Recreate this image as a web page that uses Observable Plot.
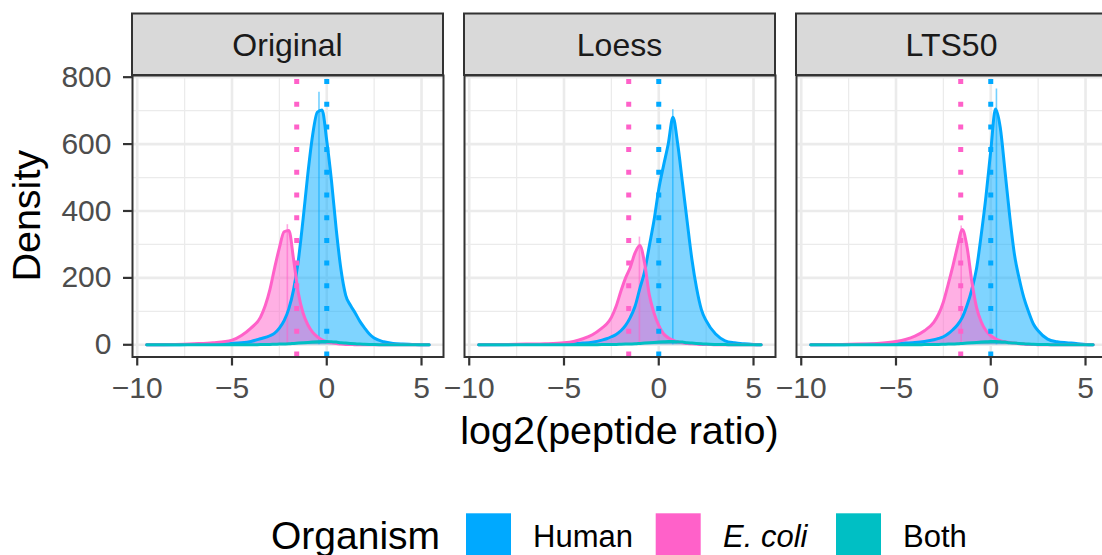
<!DOCTYPE html>
<html>
<head>
<meta charset="utf-8">
<script src="https://cdn.jsdelivr.net/npm/d3@7"></script>
<script src="https://cdn.jsdelivr.net/npm/@observablehq/plot@0.6"></script>
<style>
  html, body { margin: 0; padding: 0; background: #ffffff; overflow: hidden; }
  #chart svg { display: block; }
</style>
</head>
<body>
<div id="chart"></div>
<script>
// Normalisation methods (one facet each) and organisms (one colour each)
const methods = ["Original", "Loess", "LTS50"];
const organisms = ["Human", "E. coli", "Both"];
const organismColors = ["#00A9FF", "#FF61C9", "#00BFC4"];

// Positions along log2(peptide ratio) where the density curves are sampled
const ratioGrid = [-9.5, -8, -7, -6, -5, -4.5, -4, -3.5, -3, -2.75, -2.5, -2.25, -2, -1.75, -1.5, -1.25, -1, -0.75, -0.5, -0.25,
  0, 0.25, 0.5, 0.75, 1, 1.25, 1.5, 1.75, 2, 2.25, 2.5, 3, 3.5, 4, 4.5, 5, 5.4];

// Density values at each grid position
const originalHuman = [0, 0, 1, 2, 4, 6, 10, 18, 27, 35, 50, 72, 108, 165, 252, 375, 510, 625, 695, 702,
  610, 490, 345, 225, 148, 118, 95, 70, 50, 32, 20, 9, 4, 2, 1, 0, 0];
const originalEcoli = [0, 1, 3, 6, 14, 28, 50, 82, 165, 230, 290, 338, 342, 255, 155, 95, 60, 38, 24, 15,
  9, 6, 4, 2, 1, 1, 0, 0, 0, 0, 0, 0, 0, 0, 0, 0, 0];
const originalBoth = [0, 0, 0, 0, 0, 0, 0, 0.5, 1, 1.5, 2, 2.5, 3, 4, 5, 6, 7, 8, 9, 10,
  10, 9, 8, 6, 5, 4, 3, 2, 1.5, 1, 0.5, 0, 0, 0, 0, 0, 0];

const loessHuman = [0, 0, 1, 1, 2, 3, 5, 8, 14, 18, 24, 31, 42, 58, 82, 115, 168, 218, 295, 372,
  465, 535, 600, 680, 600, 485, 368, 255, 168, 105, 72, 32, 12, 6, 3, 1, 0];
const loessEcoli = [0, 1, 2, 3, 6, 10, 18, 30, 50, 62, 82, 115, 160, 200, 232, 275, 297, 245, 150, 95,
  58, 33, 21, 14, 9, 6, 4, 3, 2, 1, 1, 0, 0, 0, 0, 0, 0];
const loessBoth = [0, 0, 0, 0, 0, 0, 0, 0, 0.5, 0.5, 1, 1, 1.5, 2, 2.5, 3, 4, 5, 6, 7,
  8, 9, 10, 10, 9, 8, 6, 5, 4, 3, 2, 1, 0.5, 0, 0, 0, 0];

const lts50Human = [0, 0, 1, 2, 3, 5, 7, 10, 15, 19, 24, 33, 45, 60, 82, 118, 165, 228, 330, 445,
  580, 705, 650, 520, 385, 270, 198, 140, 98, 62, 42, 17, 9, 6, 4, 1, 0];
const lts50Ecoli = [0, 1, 2, 4, 10, 16, 26, 42, 68, 92, 128, 180, 235, 295, 345, 292, 190, 112, 68, 42,
  27, 18, 12, 9, 7, 5, 3, 2, 1, 1, 0, 0, 0, 0, 0, 0, 0];
const lts50Both = [0, 0, 0, 0, 0, 0, 0, 0.5, 1, 1, 1.5, 2, 2.5, 3, 4, 5, 6, 7, 8, 9,
  10, 10, 9, 8, 6, 5, 4, 3, 2, 1.5, 1, 0.5, 0, 0, 0, 0, 0];

// Tallest histogram bin of each distribution
const peakBinMethod = ["Original", "Original", "Loess", "Loess", "LTS50", "LTS50"];
const peakBinOrganism = ["Human", "E. coli", "Human", "E. coli", "Human", "E. coli"];
const peakBinRatio = [-0.41, -2.08, 0.74, -1.02, 0.3, -1.56];
const peakBinCount = [755, 359, 703, 322, 765, 355];

// Expected log2 ratios (dotted reference lines)
const expectedOrganism = ["Human", "E. coli"];
const expectedRatio = [0, -1.585];

// Axis ticks
const xTicks = [-10, -5, 0, 5];
const xMinorTicks = [-7.5, -2.5, 2.5];
const yTicks = [0, 200, 400, 600, 800];
const yMinorTicks = [100, 300, 500, 700];

// Long-format table for the marks
const seriesTable = [
  ["Original", "Human", originalHuman], ["Original", "E. coli", originalEcoli], ["Original", "Both", originalBoth],
  ["Loess", "Human", loessHuman], ["Loess", "E. coli", loessEcoli], ["Loess", "Both", loessBoth],
  ["LTS50", "Human", lts50Human], ["LTS50", "E. coli", lts50Ecoli], ["LTS50", "Both", lts50Both]
];
const densityRows = seriesTable.flatMap(([method, organism, values]) =>
  values.map((value, i) => ({method, organism, ratio: ratioGrid[i], value})));
const peakRows = peakBinMethod.map((method, i) =>
  ({method, organism: peakBinOrganism[i], ratio: peakBinRatio[i], value: peakBinCount[i]}));
const expectedRows = methods.flatMap(method =>
  expectedOrganism.map((organism, i) => ({method, organism, ratio: expectedRatio[i]})));

const FONT = "'Liberation Sans', Arial, Helvetica, sans-serif";
const W = 1110, H = 500;
const M = {left: 132, right: 3, top: 75, bottom: 143.5};

const plot = Plot.plot({
  width: W,
  height: H,
  marginLeft: M.left,
  marginRight: M.right,
  marginTop: M.top,
  marginBottom: M.bottom,
  style: {fontFamily: FONT, background: "#ffffff", maxWidth: "none", overflow: "visible"},
  fx: {domain: methods, paddingInner: 21 / 332, paddingOuter: 0, round: false, axis: null, label: null},
  x: {domain: [-10.25, 6.16], label: null},
  y: {domain: [-36.5, 805], label: null},
  color: {domain: organisms, range: organismColors},
  marks: [
    Plot.gridX(xMinorTicks, {stroke: "#EBEBEB", strokeOpacity: 1, strokeWidth: 1.3}),
    Plot.gridY(yMinorTicks, {stroke: "#EBEBEB", strokeOpacity: 1, strokeWidth: 1.3}),
    Plot.gridX(xTicks, {stroke: "#EBEBEB", strokeOpacity: 1, strokeWidth: 2.6}),
    Plot.gridY(yTicks, {stroke: "#EBEBEB", strokeOpacity: 1, strokeWidth: 2.6}),
    // overlapping (unstacked) filled distributions
    Plot.areaY(densityRows, {
      fx: "method", x: "ratio", y1: 0, y2: "value", z: "organism",
      fill: "organism", fillOpacity: 0.5, curve: "monotone-x"
    }),
    Plot.ruleX(peakRows, {
      fx: "method", x: "ratio", y1: 0, y2: "value",
      stroke: "organism", strokeOpacity: 0.55, strokeWidth: 1.6
    }),
    Plot.lineY(densityRows, {
      fx: "method", x: "ratio", y: "value", z: "organism",
      stroke: "organism", strokeWidth: 3, curve: "monotone-x"
    }),
    Plot.ruleX(expectedRows, {
      fx: "method", x: "ratio", stroke: "organism", strokeWidth: 5,
      strokeDasharray: "5,17.7", strokeDashoffset: 18.7, strokeLinecap: "butt"
    }),
    Plot.frame({stroke: "#333333", strokeWidth: 2}),
    Plot.axisX(xTicks, {
      tickSize: 9, tickPadding: 11, fontSize: 30,
      stroke: "#333333", strokeWidth: 2.2, fill: "#4D4D4D", label: null
    }),
    Plot.axisY(yTicks, {
      tickSize: 9, tickPadding: 12, fontSize: 30,
      stroke: "#333333", strokeWidth: 2.2, fill: "#4D4D4D", label: null
    })
  ]
});

document.getElementById("chart").appendChild(plot);

// Facet strips with their titles, placed from the facet scale
const fxScale = plot.scale("fx");
const band = d3.scaleBand(fxScale.domain, fxScale.range)
  .paddingInner(fxScale.paddingInner ?? 21 / 332)
  .paddingOuter(fxScale.paddingOuter ?? 0);
const svg = d3.select(plot);
const strips = svg.append("g").attr("class", "strips");
for (const m of methods) {
  const x0 = fxScale.apply ? fxScale.apply(m) : band(m);
  const bw = fxScale.bandwidth ?? band.bandwidth();
  strips.append("rect")
    .attr("x", x0).attr("y", 13.5)
    .attr("width", bw).attr("height", M.top - 13.5)
    .attr("fill", "#D9D9D9").attr("stroke", "#333333").attr("stroke-width", 2);
  strips.append("text")
    .attr("x", x0 + bw / 2).attr("y", 55.5)
    .attr("text-anchor", "middle")
    .attr("font-family", FONT).attr("font-size", 32).attr("fill", "#1A1A1A")
    .text(m);
}

// Axis titles
svg.append("text")
  .attr("x", (M.left + W - M.right) / 2).attr("y", 444)
  .attr("text-anchor", "middle")
  .attr("font-family", FONT).attr("font-size", 39.5).attr("fill", "#000000")
  .text("log2(peptide ratio)");
svg.append("text")
  .attr("transform", `translate(40.3,${(M.top + H - M.bottom) / 2}) rotate(-90)`)
  .attr("text-anchor", "middle")
  .attr("font-family", FONT).attr("font-size", 39.5).attr("fill", "#000000")
  .text("Density");

// Legend below the chart, built from the colour scale
const colorScale = plot.scale("color");
const legend = d3.select("#chart").append("svg")
  .attr("width", 1102).attr("height", 60)
  .style("display", "block").style("overflow", "visible");
legend.append("text")
  .attr("x", 271).attr("y", 49)
  .attr("font-family", FONT).attr("font-size", 39).attr("fill", "#000000")
  .text("Organism");
const keyX = [466, 655.7, 836];
const labelX = [533, 723, 903];
colorScale.domain.forEach((name, i) => {
  legend.append("rect")
    .attr("x", keyX[i]).attr("y", 13.3)
    .attr("width", 45).attr("height", 45)
    .attr("fill", colorScale.range[i]);
  legend.append("text")
    .attr("x", labelX[i]).attr("y", 46.5)
    .attr("font-family", FONT).attr("font-size", 31).attr("fill", "#000000")
    .attr("font-style", name === "E. coli" ? "italic" : "normal")
    .text(name);
});
</script>
</body>
</html>
